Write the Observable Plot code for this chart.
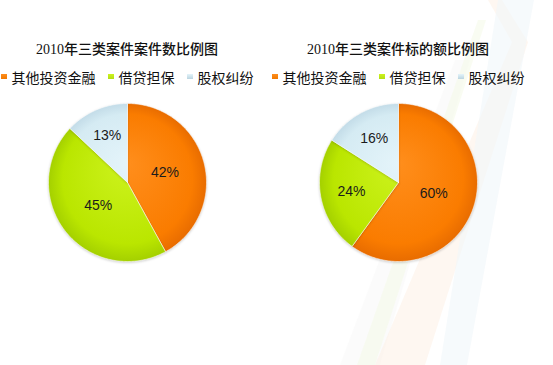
<!DOCTYPE html>
<html>
<head>
<meta charset="utf-8">
<script src="https://cdn.jsdelivr.net/npm/d3@7"></script>
<script src="https://cdn.jsdelivr.net/npm/@observablehq/plot@0.6"></script>
<style>
  html, body { margin: 0; padding: 0; background: #fff; }
  #wrap { position: relative; width: 553px; height: 365px; overflow: hidden; background: #fff; }
  #bg { position: absolute; left: 0; top: 0; }
  .panel { position: absolute; top: 0; width: 256px; height: 365px; }
  .title { position: absolute; top: 42px; left: 0; width: 100%; text-align: center;
           font: 500 14px/16px "Liberation Serif", "Noto Sans CJK SC", serif; color: #111; white-space: nowrap; }
  .legend { position: absolute; top: 68px; left: -20px; width: 296px; display: flex; justify-content: center;
            align-items: center; font: 14px/18px "Noto Sans CJK SC", sans-serif; color: #111; white-space: nowrap; }
  .item { display: flex; align-items: center; margin: 0 6px; }
  .sw { width: 6px; height: 5px; margin-right: 5px; margin-top: -1px; }
  .pie { position: absolute; top: 95px; left: 0; }
</style>
</head>
<body>
<div id="wrap">
  <svg id="bg" width="553" height="365">
    <polygon points="455,60 470,60 380,365 340,365" fill="#f7f7f7" opacity="0.5"/>
    <polygon points="478,20 486,20 375,365 357,365" fill="#f5faea" opacity="0.6"/>
    <polygon points="488,0 502,0 528,42 425,365 375,365 512,42" fill="#fdf1e8" opacity="0.6"/>
    <polygon points="498,0 534,0 467,365 440,365" fill="#f0f6fa" opacity="0.6"/>
  </svg>
  <div id="p0" class="panel" style="left:-1px"></div>
  <div id="p1" class="panel" style="left:270px"></div>
</div>
<script>
const categories = ["其他投资金融", "借贷担保", "股权纠纷"];
const caseCountPct = [42, 45, 13];
const claimAmountPct = [60, 24, 16];
const chartTitles = ["2010年三类案件案件数比例图", "2010年三类案件标的额比例图"];
const sliceLight = ["#FF8E1C", "#CDF31E", "#E4F4FA"];
const sliceMid = ["#FA7C00", "#BAE600", "#D5EBF3"];
const sliceDark = ["#E86C00", "#A4D000", "#C3DCE8"];
const legendColors = ["#F07800", "#B4DE14", "#BAD4E0"];

function makePanel(el, title, values, idx) {
  const t = document.createElement("div");
  t.className = "title";
  t.textContent = title;
  el.appendChild(t);

  const lg = document.createElement("div");
  lg.className = "legend";
  categories.forEach((c, i) => {
    const it = document.createElement("div");
    it.className = "item";
    const sw = document.createElement("span");
    sw.className = "sw";
    sw.style.background = `linear-gradient(${sliceLight[i]}, ${legendColors[i]})`;
    const tx = document.createElement("span");
    tx.textContent = c;
    it.appendChild(sw); it.appendChild(tx);
    lg.appendChild(it);
  });
  el.appendChild(lg);

  const arcs = d3.pie().sort(null)(values);
  const slices = arcs.map((a) => {
    const pts = [{ x: 0, y: 0 }];
    const n = Math.max(4, Math.ceil((a.endAngle - a.startAngle) / (Math.PI / 180)));
    for (let k = 0; k <= n; k++) {
      const ang = a.startAngle + (a.endAngle - a.startAngle) * k / n;
      pts.push({ x: Math.sin(ang), y: Math.cos(ang) });
    }
    pts.push({ x: 0, y: 0 });
    return pts;
  });
  const labels = arcs.map((a, i) => {
    const th = a.endAngle - a.startAngle;
    const mid = (a.startAngle + a.endAngle) / 2;
    const d = Math.max(4 * Math.sin(th / 2) / (3 * th), 0.47);
    return { x: d * Math.sin(mid), y: d * Math.cos(mid), t: values[i] + "%" };
  });

  const svg = Plot.plot({
    width: 256, height: 174,
    marginTop: 8, marginBottom: 8, marginLeft: 49, marginRight: 49,
    x: { domain: [-1, 1], axis: null },
    y: { domain: [-1, 1], axis: null },
    style: { background: "transparent", overflow: "visible" },
    marks: [
      ...slices.map((pts, i) => Plot.line(pts, {
        x: "x", y: "y", fill: `url(#g${idx}_${i})`,
        stroke: "rgba(255,255,255,0.7)", strokeWidth: 0.8, strokeLinejoin: "round"
      })),
      Plot.text(labels, { x: "x", y: "y", text: "t", fontSize: 14, fill: "#1b1b1b",
        fontFamily: "Liberation Sans, Arial, sans-serif" })
    ]
  });
  svg.classList.add("pie");
  const cx = svg.scale("x").apply(0), cy = svg.scale("y").apply(0);
  const r = svg.scale("x").apply(1) - cx;
  const sel = d3.select(svg);
  const defs = sel.insert("defs", ":first-child");
  sliceLight.forEach((c, i) => {
    const g = defs.append("radialGradient").attr("id", `g${idx}_${i}`)
      .attr("gradientUnits", "userSpaceOnUse")
      .attr("cx", cx).attr("cy", cy).attr("r", r)
      .attr("fx", cx).attr("fy", cy - r * 0.25);
    g.append("stop").attr("offset", "0").attr("stop-color", c);
    g.append("stop").attr("offset", "0.82").attr("stop-color", sliceMid[i]);
    g.append("stop").attr("offset", "1").attr("stop-color", sliceDark[i]);
  });
  sel.selectAll('g[aria-label="line"]').style("filter", "drop-shadow(0px 1px 1px rgba(0,0,0,0.18))");
  el.appendChild(svg);
}

makePanel(document.getElementById("p0"), chartTitles[0], caseCountPct, 0);
makePanel(document.getElementById("p1"), chartTitles[1], claimAmountPct, 1);
</script>
</body>
</html>
